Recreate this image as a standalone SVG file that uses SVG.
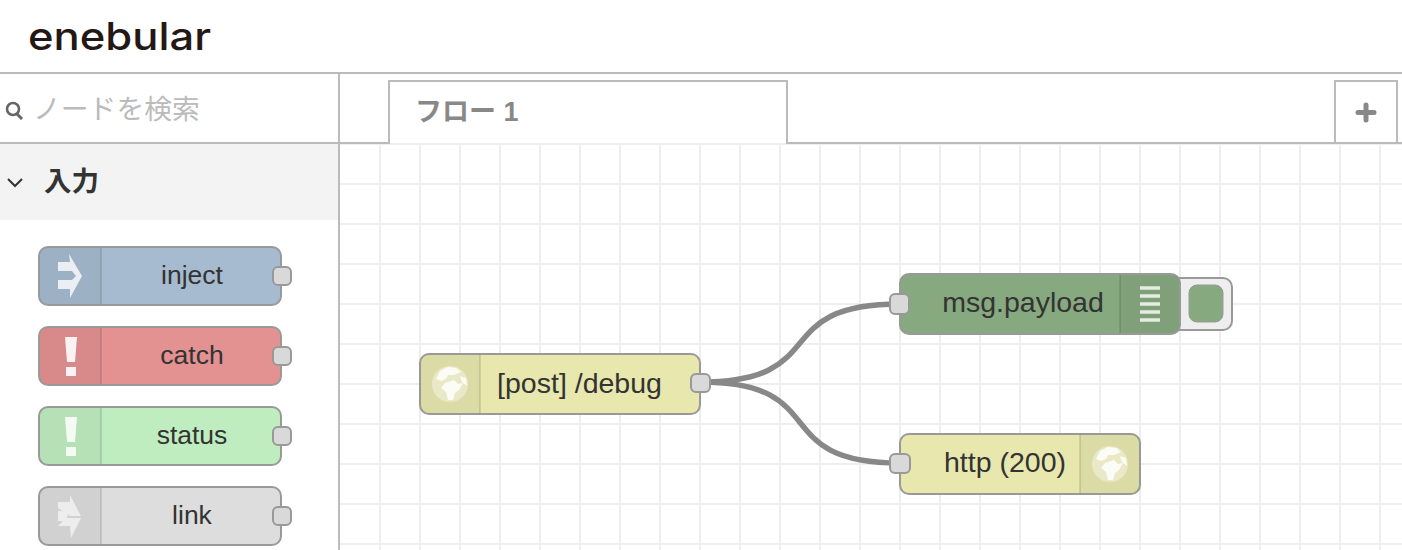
<svg xmlns="http://www.w3.org/2000/svg" width="1402" height="550" viewBox="0 0 1402 550">
<style>
text{font-family:"Liberation Sans","Noto Sans CJK JP",sans-serif}
.grid{stroke:#eee;stroke-width:2;fill:none}
.chrome{stroke:#bbb;stroke-width:2;fill:none}
.body{stroke:#999;stroke-width:2}
.shade{fill:#000;fill-opacity:.05}
.sep{stroke:#000;stroke-opacity:.1;stroke-width:2}
.port{fill:#d9d9d9;stroke:#999;stroke-width:2}
.lbl{font-size:26.500px;fill:#333;text-anchor:middle}
.cv{font-size:28.500px}
.wire{fill:none;stroke:#888;stroke-width:5.500}
.ico{fill:#fff;fill-opacity:.85}
</style>
<defs>
<g id="globe">
<circle cx="0" cy="0" r="18" fill="#fff" fill-opacity=".38"/>
<path class="ico" d="M-10-13-2-17 6-16 11-12 4-9-2-9-4-5-9-3-14-5ZM-5-1 4-4 8 0 13-1 9 6 5 9 3 16-2 16-4 8-9 4ZM10-8 16-6 17 2 12-2Z"/>
</g>
</defs>
<rect width="1402" height="550" fill="#fff"/>
<g id="canvas-grid" class="grid">
<path d="M340 144H1402M340 184H1402M340 224H1402M340 264H1402M340 304H1402M340 344H1402M340 384H1402M340 424H1402M340 464H1402M340 504H1402M340 544H1402"/>
<path d="M380 144V550M420 144V550M460 144V550M500 144V550M540 144V550M580 144V550M620 144V550M660 144V550M700 144V550M740 144V550M780 144V550M820 144V550M860 144V550M900 144V550M940 144V550M980 144V550M1020 144V550M1060 144V550M1100 144V550M1140 144V550M1180 144V550M1220 144V550M1260 144V550M1300 144V550M1340 144V550M1380 144V550"/>
</g>
<g id="header">
<text x="28" y="50" font-size="38" font-weight="500" textLength="183" lengthAdjust="spacingAndGlyphs" style="font-family:Inter,'Liberation Sans',sans-serif" fill="#231815">enebular</text>
<path class="chrome" d="M0 73H1402"/>
</g>
<g id="palette">
<rect x="0" y="144" width="338" height="76" fill="#f3f3f3"/>
<path class="chrome" d="M339 73V550M0 143H339"/>
<g id="search">
<circle cx="13" cy="109" r="6" fill="none" stroke="#666" stroke-width="2.600"/>
<path d="M17 114 22 119" stroke="#666" stroke-width="3" fill="none"/>
<text x="33" y="119" font-size="27.800" fill="#bbb">ノードを検索</text>
</g>
<g id="category">
<path d="M8 179 15 186 22 179" fill="none" stroke="#333" stroke-width="2"/>
<text x="44" y="191" font-size="27.500" font-weight="700" fill="#333">入力</text>
</g>
</g>
<g id="tabs">
<path class="chrome" d="M340 143H389V81H787V143H1402"/>
<text x="415" y="121" font-size="27" font-weight="700" fill="#888">フロー 1</text>
<g id="add-tab">
<path class="chrome" d="M1335 143V81H1397V143"/>
<path d="M1366 105V120M1358 112.500H1374" stroke="#888" stroke-width="5" stroke-linecap="round" fill="none"/>
</g>
</g>
<g id="connectors">
<path class="wire" d="M700 382C835 382 765 304 900 304"/>
<path class="wire" d="M700 382C835 382 765 463 900 463"/>
</g>
<g id="node-inject">
<rect class="body" x="39" y="247" width="242" height="58" rx="9" fill="#a6bbcf"/>
<path class="shade" d="M48 248H101V304H48Q40 304 40 296V256Q40 248 48 248Z"/>
<path class="sep" d="M101 248V304"/>
<path d="M69 254 82 276 70 298V289H58V280H72L76 276 72 271H58V262H70Z" fill="#fff" fill-opacity=".8"/>
<text class="lbl" x="192" y="284">inject</text>
<rect class="port" x="273" y="267" width="18" height="18" rx="5"/>
</g>
<g id="node-catch">
<rect class="body" x="39" y="327" width="242" height="58" rx="9" fill="#e49191"/>
<path class="shade" d="M48 328H101V384H48Q40 384 40 376V336Q40 328 48 328Z"/>
<path class="sep" d="M101 328V384"/>
<path d="M65 337H77L75 362H67ZM66 367H76V376H66Z" fill="#fff" fill-opacity=".9"/>
<text class="lbl" x="192" y="364">catch</text>
<rect class="port" x="273" y="347" width="18" height="18" rx="5"/>
</g>
<g id="node-status">
<rect class="body" x="39" y="407" width="242" height="58" rx="9" fill="#c0edc0"/>
<path class="shade" d="M48 408H101V464H48Q40 464 40 456V416Q40 408 48 408Z"/>
<path class="sep" d="M101 408V464"/>
<path d="M65 417H77L75 442H67ZM66 447H76V456H66Z" fill="#fff" fill-opacity=".85"/>
<text class="lbl" x="192" y="444">status</text>
<rect class="port" x="273" y="427" width="18" height="18" rx="5"/>
</g>
<g id="node-link">
<rect class="body" x="39" y="487" width="242" height="58" rx="9" fill="#ddd"/>
<path class="shade" d="M48 488H101V544H48Q40 544 40 536V496Q40 488 48 488Z"/>
<path class="sep" d="M101 488V544"/>
<path d="M70 495 81 516H70L58 508V502H70ZM81 518 71 538 70 526H58L66 518ZM58 511H65L68 516 65 521H58Z" fill="#fff" fill-opacity=".6"/>
<text class="lbl" x="192" y="524">link</text>
<rect class="port" x="273" y="507" width="18" height="18" rx="5"/>
</g>
<g id="node-post">
<rect class="body" x="420" y="354" width="280" height="60" rx="9" fill="#e7e7ae"/>
<path class="shade" d="M429 355H480V413H429Q421 413 421 405V363Q421 355 429 355Z"/>
<path class="sep" d="M480 355V413"/>
<use href="#globe" x="450" y="384"/>
<text class="lbl cv" x="579.500" y="393">[post] /debug</text>
<rect class="port" x="691" y="374" width="19" height="18" rx="5"/>
</g>
<g id="node-debug">
<rect class="body" x="1170" y="278" width="62" height="52" rx="9" fill="#eee"/>
<rect x="1189" y="285" width="34" height="37" rx="8" fill="#87a980" stroke="#999" stroke-width="1"/>
<rect class="body" x="900" y="274" width="280" height="60" rx="9" fill="#87a980"/>
<path class="shade" d="M1120 275H1171Q1179 275 1179 283V325Q1179 333 1171 333H1120Z"/>
<path class="sep" d="M1120 275V333"/>
<path d="M1140 288H1160M1140 296H1160M1140 304H1160M1140 312H1160M1140 320H1160" stroke="#fff" stroke-opacity=".8" stroke-width="3.500" fill="none"/>
<text class="lbl cv" x="1023" y="312">msg.payload</text>
<rect class="port" x="890" y="294" width="19" height="20" rx="5"/>
</g>
<g id="node-http">
<rect class="body" x="900" y="434" width="240" height="60" rx="9" fill="#e7e7ae"/>
<path class="shade" d="M1080 435H1131Q1139 435 1139 443V485Q1139 493 1131 493H1080Z"/>
<path class="sep" d="M1080 435V493"/>
<use href="#globe" x="1110" y="464"/>
<text class="lbl cv" x="1005" y="472">http (200)</text>
<rect class="port" x="890" y="454" width="20" height="19" rx="5"/>
</g>
</svg>
